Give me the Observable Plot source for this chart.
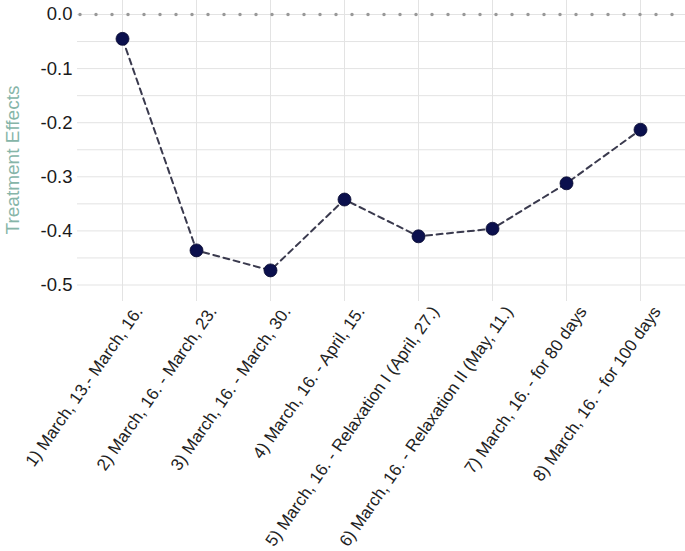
<!DOCTYPE html>
<html>
<head>
<meta charset="utf-8">
<script src="https://cdn.jsdelivr.net/npm/d3@7"></script>
<script src="https://cdn.jsdelivr.net/npm/@observablehq/plot@0.6"></script>
<style>
  html, body { margin: 0; padding: 0; background: #fff; }
</style>
</head>
<body>
<div id="chart"></div>
<script>
const categories = [
  "1) March, 13.- March, 16.",
  "2) March, 16. - March, 23.",
  "3) March, 16. - March, 30.",
  "4) March, 16. - April, 15.",
  "5) March, 16. - Relaxation I (April, 27.)",
  "6) March, 16. - Relaxation II (May, 11.)",
  "7) March, 16. - for 80 days",
  "8) March, 16. - for 100 days"
];
const effects = [-0.045, -0.436, -0.473, -0.342, -0.410, -0.396, -0.312, -0.213];
const yTicks = [0, -0.1, -0.2, -0.3, -0.4, -0.5];
const yMinor = [-0.05, -0.15, -0.25, -0.35, -0.45];
const yTitle = "Treatment Effects";

const data = categories.map((c, i) => ({cat: c, value: effects[i]}));
const gridColor = "#e3e3e3";

const chart = Plot.plot({
  width: 685,
  height: 551,
  marginLeft: 77,
  marginRight: 0,
  marginTop: 0,
  marginBottom: 250,
  style: {fontFamily: "'Liberation Sans', Arial, sans-serif", background: "#fff"},
  x: {type: "point", domain: categories, padding: 0.6, align: 0.5},
  y: {domain: [-0.5305, 0.0259]},
  marks: [
    Plot.ruleY(yMinor, {stroke: gridColor, strokeWidth: 1}),
    Plot.ruleY(yTicks, {stroke: gridColor, strokeWidth: 1}),
    Plot.ruleX(categories, {stroke: gridColor, strokeWidth: 1}),
    Plot.ruleY([0], {stroke: "#999", strokeWidth: 3.5, strokeDasharray: "0,16", strokeLinecap: "round", strokeDashoffset: -3}),
    Plot.line(data, {x: "cat", y: "value", stroke: "#3a3a4e", strokeWidth: 2, strokeDasharray: "6,4.5"}),
    Plot.dot(data, {x: "cat", y: "value", r: 6.5, fill: "#0b104d", stroke: "#080a30", strokeWidth: 0.8}),
    Plot.axisY(yTicks, {
      tickSize: 0, tickPadding: 5, fontSize: 18.5, fill: "#1a1a1a",
      tickFormat: d => d.toFixed(1), label: null
    }),
    Plot.axisX({
      tickSize: 0, tickPadding: 0, tickRotate: -55, textAnchor: "end", lineAnchor: "top",
      fontSize: 17, fill: "#222", dx: 11, dy: 3, label: null
    }),
    Plot.text([yTitle], {
      frameAnchor: "left", textAnchor: "middle", dx: -65, dy: 9, rotate: -90, fontSize: 19,
      fill: "#86b5a8", text: d => d
    })
  ]
});
document.getElementById("chart").appendChild(chart);
</script>
</body>
</html>
